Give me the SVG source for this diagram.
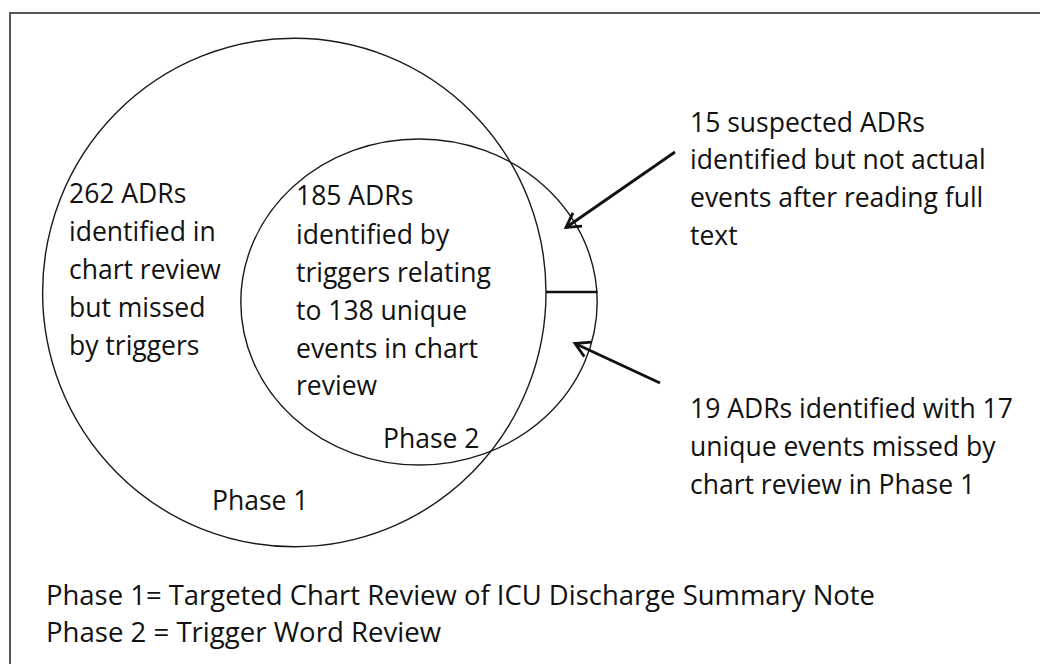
<svg xmlns="http://www.w3.org/2000/svg" width="1040" height="664" viewBox="0 0 1040 664">
<style>
.bg{fill:#fff}
.frame{fill:none;stroke:#555;stroke-width:2}
.set{fill:none;stroke:#1a1a1a;stroke-width:1.4}
.t{font-family:"Open Sans","Liberation Sans",sans-serif;font-size:26.5px;fill:#111}
.leg{font-family:"Open Sans","Liberation Sans",sans-serif;font-size:27.5px;fill:#111}
.arrow{fill:none;stroke:#111;stroke-width:2.8}
.sep{fill:none;stroke:#111;stroke-width:2.6}
</style>
<defs>
<marker id="open" markerUnits="userSpaceOnUse" markerWidth="20" markerHeight="20" viewBox="0 0 20 20" refX="16" refY="10" orient="auto">
<path d="M2,2 L16,10 L2,18" fill="none" stroke="#111" stroke-width="2.8" stroke-linejoin="miter"/>
</marker>
</defs>
<rect class="bg" x="0" y="0" width="1040" height="664"/>
<rect class="frame" x="10" y="13" width="1050" height="700"/>
<g id="phase1">
<ellipse class="set" cx="294.3" cy="292.5" rx="251.7" ry="254.2"/>
<text class="t" x="69" y="202.5">262 ADRs</text>
<text class="t" x="69" y="240.6">identified in</text>
<text class="t" x="69" y="279">chart review</text>
<text class="t" x="69" y="317.2">but missed</text>
<text class="t" x="69" y="355">by triggers</text>
<text class="t" x="212" y="510">Phase 1</text>
</g>
<g id="phase2">
<ellipse class="set" cx="419" cy="302" rx="178.2" ry="163"/>
<text class="t" x="296" y="205.4">185 ADRs</text>
<text class="t" x="296" y="244">identified by</text>
<text class="t" x="296" y="281.7">triggers relating</text>
<text class="t" x="296" y="319.6">to 138 unique</text>
<text class="t" x="296" y="357.6">events in chart</text>
<text class="t" x="296" y="394.7">review</text>
<text class="t" x="383" y="448">Phase 2</text>
</g>
<g id="note-suspected">
<text class="t" x="690" y="131.6">15 suspected ADRs</text>
<text class="t" x="690" y="169.4">identified but not actual</text>
<text class="t" x="690" y="207.2">events after reading full</text>
<text class="t" x="690" y="245.4">text</text>
</g>
<g id="note-missed">
<text class="t" x="690" y="418.3">19 ADRs identified with 17</text>
<text class="t" x="690" y="456">unique events missed by</text>
<text class="t" x="690" y="493.5">chart review in Phase 1</text>
</g>
<g id="legend">
<text class="leg" x="46" y="605" textLength="829" lengthAdjust="spacingAndGlyphs">Phase 1= Targeted Chart Review of ICU Discharge Summary Note</text>
<text class="leg" x="46" y="642" textLength="395" lengthAdjust="spacingAndGlyphs">Phase 2 = Trigger Word Review</text>
</g>
<g id="connectors">
<line class="sep" x1="546" y1="292" x2="597.5" y2="292"/>
<line class="arrow" x1="675" y1="152" x2="566" y2="227.5" marker-end="url(#open)"/>
<line class="arrow" x1="660" y1="383" x2="575" y2="343.5" marker-end="url(#open)"/>
</g>
</svg>
